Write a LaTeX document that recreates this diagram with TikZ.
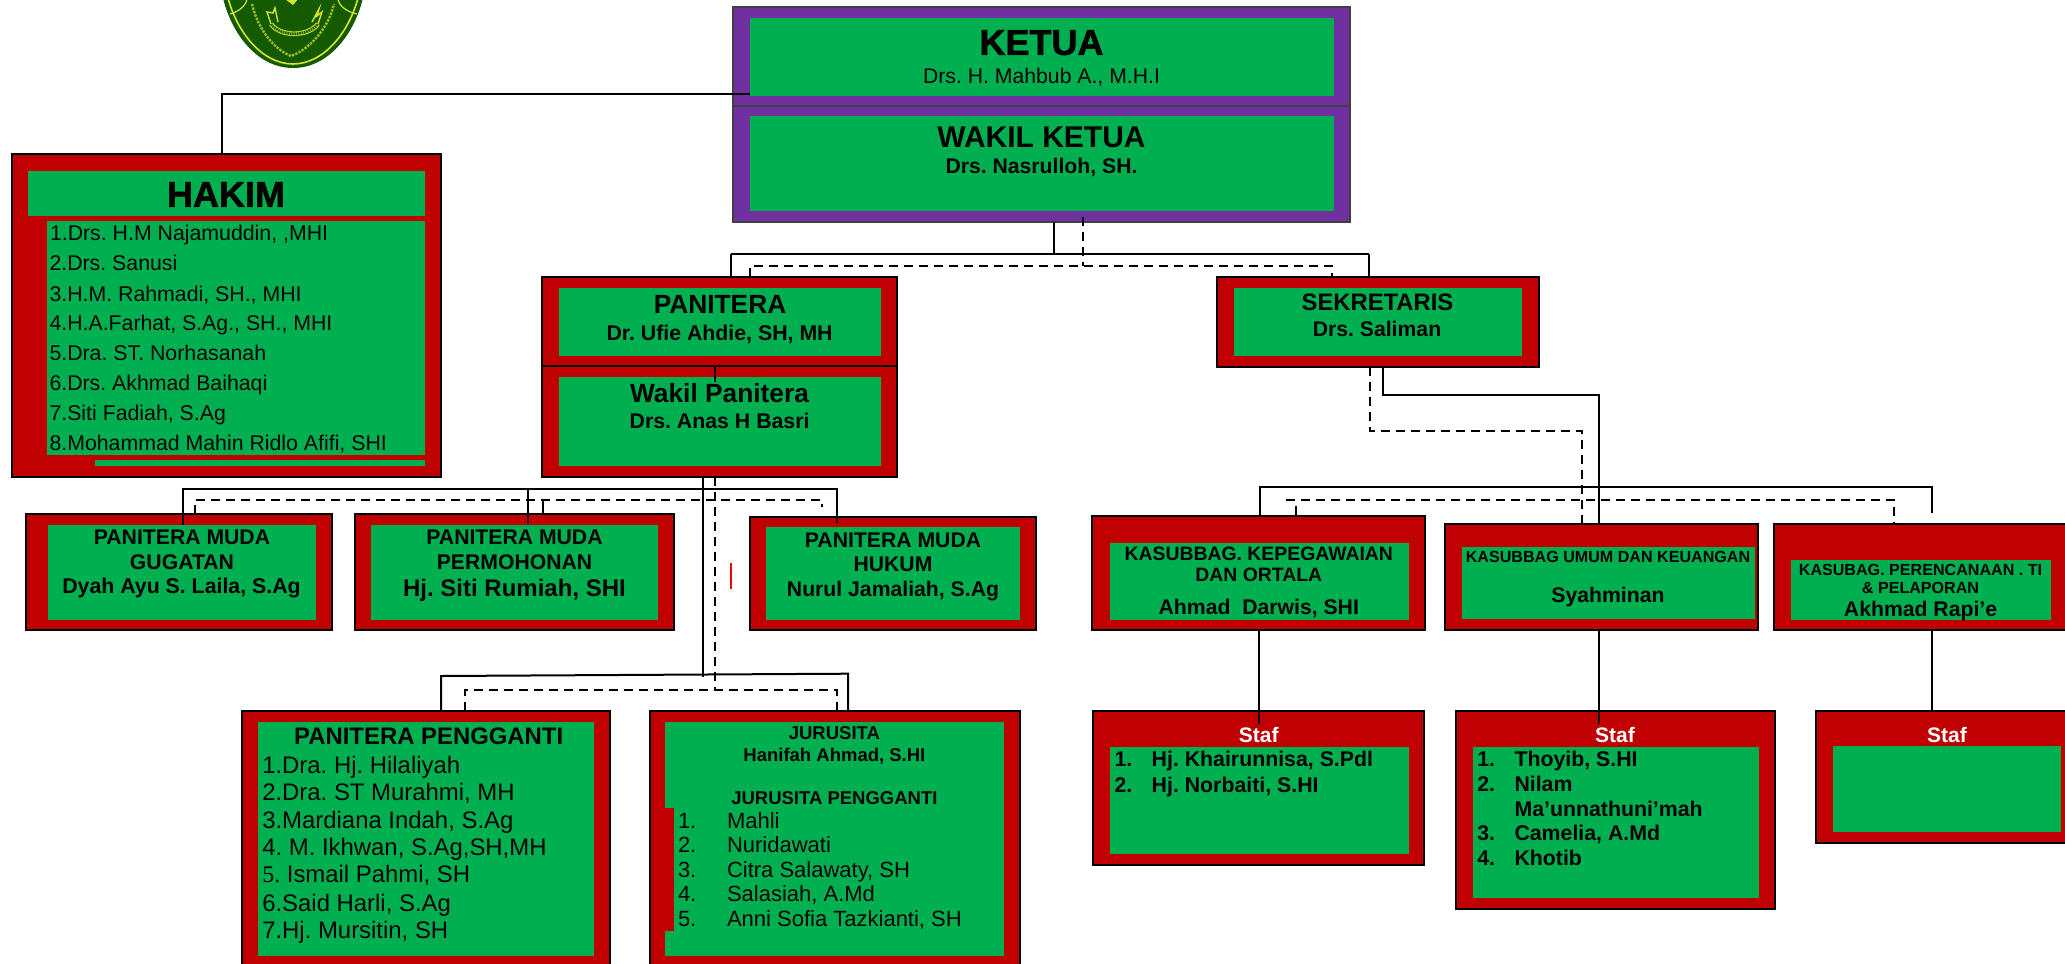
\documentclass[tikz,border=0pt]{standalone}
\usepackage{fontspec}
\setmainfont{Liberation Sans}
\newfontfamily\serfont{Liberation Serif}
\newfontfamily\heavy[FakeBold=1.6]{Liberation Sans Bold}
\frenchspacing
\definecolor{cred}{HTML}{C00000}
\definecolor{cgreen}{HTML}{00B050}
\definecolor{cpurple}{HTML}{7030A0}
\definecolor{sealgreen}{HTML}{145A00}
\definecolor{sealyellow}{HTML}{D6E62E}
\tikzset{
  redbox/.style={draw=black,line width=1pt,fill=cred,inner sep=0pt,outer sep=0pt},
  purplebox/.style={draw=black!75,line width=1pt,fill=cpurple,inner sep=0pt,outer sep=0pt},
  greenbox/.style={fill=cgreen,inner sep=0pt,outer sep=0pt},
  redpatch/.style={fill=cred,inner sep=0pt,outer sep=0pt},
  lab/.style={inner sep=0pt,outer sep=0pt,text depth=0pt,align=center},
  link/.style={draw=black,line width=1pt},
  dlink/.style={draw=black,line width=1pt,dash pattern=on 4.5pt off 3pt},
  tick/.style={draw=red,line width=0.8pt},
}
\newcommand\BX[6]{\node[#6,minimum width={(#4-#2)*0.5pt},minimum height={(#5-#3)*0.5pt}] (#1) at ({(#2+#4)/2},{(#3+#5)/2}) {};}
\newcommand\TX[7]{\pgfmathsetmacro\sz{#5*0.5}\node[lab,anchor=#2,text height={0.716*#5*0.5pt}] (#1) at (#3,#4) {\fontsize{\sz}{\sz}\selectfont#6\relax#7};}
\begin{document}
\begin{tikzpicture}[x=0.5pt,y=-0.5pt]
\useasboundingbox (0,0) rectangle (2065,963);
% seal
\fill[sealgreen] (223,-2) .. controls (232,35) and (258,68) .. (293,68) .. controls (328,68) and (354,35) .. (363,-2) -- cycle;
\begin{scope}[draw=sealyellow]
\draw[line width=0.8pt] (228,-2) .. controls (237,32) and (262,64) .. (293,64) .. controls (324,64) and (349,32) .. (358,-2);
\draw[line width=0.6pt] (247,-1) .. controls (246,6) and (238,12) .. (230,14);
\draw[line width=0.6pt] (338,-1) .. controls (339,6) and (347,12) .. (357,14);
\draw[line width=1.2pt,draw=sealyellow!70!sealgreen,dash pattern=on 1.2pt off 0.6pt] (252,4) .. controls (258,30) and (275,50) .. (291,56) .. controls (308,50) and (328,30) .. (334,4);
\draw[line width=2.4pt,draw=sealyellow!85!sealgreen] (271,24) .. controls (280,37) and (308,37) .. (318,24);
\draw[line width=1.2pt,draw=sealgreen,dash pattern=on 0.8pt off 0.4pt] (271,24) .. controls (280,37) and (308,37) .. (318,24);
\draw[line width=0.7pt] (271,24) -- (267,12) -- (273,13) -- (275,8) -- (278,22);
\draw[line width=0.7pt] (318,24) -- (322,12) -- (317,16) -- (319,9) -- (312,22);
\end{scope}
\fill[sealyellow] (285,-1) -- (293,5) -- (298,-1) -- cycle;
% boxes
\BX{ketua}{733}{7}{1350}{106}{purplebox}
\BX{ketuag}{750}{18}{1334}{96}{greenbox}
\BX{wakil}{733}{106}{1350}{222}{purplebox}
\BX{wakilg}{750}{116}{1334}{211}{greenbox}
\BX{hakim}{12}{154}{441}{477}{redbox}
\BX{hakimt}{28}{171}{425}{216}{greenbox}
\BX{hakiml}{47}{221}{425}{455}{greenbox}
\BX{hakims}{95}{460}{425}{466}{greenbox}
\BX{pan}{542}{277}{897}{366}{redbox}
\BX{pang}{559}{288}{881}{356}{greenbox}
\BX{wpan}{542}{366}{897}{477}{redbox}
\BX{wpang}{559}{377}{881}{466}{greenbox}
\BX{sek}{1217}{277}{1539}{367}{redbox}
\BX{sekg}{1234}{288}{1522}{356}{greenbox}
\BX{pmg}{26}{514}{332}{630}{redbox}
\BX{pmgg}{48}{525}{316}{620}{greenbox}
\BX{pmp}{355}{514}{674}{630}{redbox}
\BX{pmpg}{371}{525}{658}{620}{greenbox}
\BX{pmh}{750}{517}{1036}{630}{redbox}
\BX{pmhg}{766}{527}{1020}{620}{greenbox}
\BX{pp}{242}{711}{610}{990}{redbox}
\BX{ppg}{258}{722}{594}{956}{greenbox}
\BX{jur}{650}{711}{1020}{990}{redbox}
\BX{jurg}{665}{722}{1004}{956}{greenbox}
\BX{jurn}{665}{808}{674}{931}{redpatch}
\BX{kp}{1092}{516}{1425}{630}{redbox}
\BX{kpg}{1110}{543}{1409}{620}{greenbox}
\BX{ku}{1445}{524}{1758}{630}{redbox}
\BX{kug}{1462}{547}{1755}{619}{greenbox}
\BX{kr}{1774}{524}{2085}{630}{redbox}
\BX{krg}{1791}{560}{2051}{620}{greenbox}
\BX{sa}{1093}{711}{1424}{865}{redbox}
\BX{sag}{1110}{747}{1409}{854}{greenbox}
\BX{sb}{1456}{711}{1775}{909}{redbox}
\BX{sbg}{1473}{747}{1759}{898}{greenbox}
\BX{sc}{1816}{711}{2085}{843}{redbox}
\BX{scg}{1833}{746}{2061}{832}{greenbox}
% junction coordinates
\coordinate (jh) at (222,94);
\coordinate (jtop) at (1054,254);
\coordinate (jtopd) at (1083,266);
\coordinate (jsek) at (1382.5,395);
\coordinate (jsekd) at (1369.5,431);
\coordinate (jld) at (714.7,690);
\coordinate (jll) at (441,676);
\coordinate (jlr) at (848,673.7);
% connectors
\draw[link] (750,94) -- (jh) -- (jh |- hakim.north);
\draw[link] (jtop |- wakil.south) -- (jtop) (731,254) -- (1369,254) (731,254) -- (731,277) (1369,254) -- (1369,277);
\draw[dlink] (1083,217) -- (jtopd);
\draw[dlink] (750,277) -- (750,266) -- (1332,266) -- (1332,277);
\draw[link] (715,366) -- (715,382);
\draw[link] (1382.5,367) -- (jsek) -- (1598.5,395) -- (1598.5,524);
\draw[dlink] (1369.5,367) -- (jsekd) -- (1582,431) -- (1582,523);
\draw[link] (1259.5,516) -- (1259.5,487) -- (1932,487) -- (1932,513);
\draw[dlink] (1296,515) -- (1296,500);
\draw[dlink] (1286,500) -- (1894,500) -- (1894,523);
\draw[link] (183,525) -- (183,489) -- (837,489) -- (837,523) (527.5,489) -- (527.5,523);
\draw[dlink] (195,514) -- (195,500) -- (822,500) -- (822,507);
\draw[link] (543,500) -- (543,514);
\draw[link] (702.5,477) -- (702.5,677);
\draw[dlink] (714.7,477) -- (jld);
\draw[link] (441,711) -- (jll) -- (jlr) -- (848,711);
\draw[dlink] (464.5,711) -- (464.5,690) -- (837,690) -- (837,711);
\draw[link] (1259,630) -- (1259,724) (1598.5,630) -- (1598.5,724) (1932,630) -- (1932,711);
\draw[tick] (731,563) -- (731,589);
% texts
\TX{tketua}{center}{1041.5}{42}{36}{\heavy}{KETUA}
\TX{tketuan}{center}{1041.5}{76}{21.2}{}{Drs. H. Mahbub A., M.H.I}
\TX{twakil}{center}{1041.5}{137}{30}{\bfseries}{WAKIL KETUA}
\TX{twakiln}{center}{1041.5}{165.5}{21.2}{\bfseries}{Drs. Nasrulloh, SH.}
\TX{thakim}{center}{226}{194}{36}{\heavy}{HAKIM}
\TX{h1}{west}{50}{233}{21.3}{}{1.Drs. H.M Najamuddin, ,MHI}
\TX{h2}{west}{49.5}{263}{21.3}{}{2.Drs. Sanusi}
\TX{h3}{west}{49.5}{293.5}{21.3}{}{3.H.M. Rahmadi, SH., MHI}
\TX{h4}{west}{49.5}{323}{21.3}{}{4.H.A.Farhat, S.Ag., SH., MHI}
\TX{h5}{west}{49.5}{353}{21.3}{}{5.Dra. ST. Norhasanah}
\TX{h6}{west}{49.5}{383}{21.3}{}{6.Drs. Akhmad Baihaqi}
\TX{h7}{west}{49.5}{412.5}{21.3}{}{7.Siti Fadiah, S.Ag}
\TX{h8}{west}{49.5}{442.5}{21.3}{}{8.Mohammad Mahin Ridlo Afifi, SHI}
\TX{tpan}{center}{720}{304}{26.3}{\bfseries}{PANITERA}
\TX{tpann}{center}{719.6}{332.5}{21.3}{\bfseries}{Dr. Ufie Ahdie, SH, MH}
\TX{twpan}{center}{719.5}{393}{26.3}{\bfseries}{Wakil Panitera}
\TX{twpann}{center}{719.6}{420.5}{21.3}{\bfseries}{Drs. Anas H Basri}
\TX{tsek}{center}{1377.5}{301.5}{23.8}{\bfseries}{SEKRETARIS}
\TX{tsekn}{center}{1377}{328.5}{21.2}{\bfseries}{Drs. Saliman}
\TX{kp1}{center}{1258.8}{553.5}{19.4}{\bfseries}{KASUBBAG. KEPEGAWAIAN}
\TX{kp2}{center}{1258.8}{574.5}{19.4}{\bfseries}{DAN ORTALA}
\TX{kp3}{center}{1258.8}{606.5}{21.2}{\bfseries}{Ahmad\ \ Darwis, SHI}
\TX{ku1}{center}{1608}{556.5}{16.1}{\bfseries}{KASUBBAG UMUM DAN KEUANGAN}
\TX{ku2}{center}{1608}{595}{21.2}{\bfseries}{Syahminan}
\TX{kr1}{center}{1920.5}{569.5}{16.1}{\bfseries}{KASUBAG. PERENCANAAN . TI}
\TX{kr2}{center}{1920.5}{587.5}{16.1}{\bfseries}{\& PELAPORAN}
\TX{kr3}{center}{1920.5}{609}{21.2}{\bfseries}{Akhmad Rapi’e}
\TX{pmg1}{center}{182}{536.5}{21.2}{\bfseries}{PANITERA MUDA}
\TX{pmg2}{center}{182}{561.5}{21.2}{\bfseries}{GUGATAN}
\TX{pmg3}{center}{181.5}{586}{21.3}{\bfseries}{Dyah Ayu S. Laila, S.Ag}
\TX{pmp1}{center}{514.5}{536.5}{21.2}{\bfseries}{PANITERA MUDA}
\TX{pmp2}{center}{514.5}{561.5}{21.2}{\bfseries}{PERMOHONAN}
\TX{pmp3}{center}{514.5}{588}{24}{\bfseries}{Hj. Siti Rumiah, SHI}
\TX{pmh1}{center}{893}{539.5}{21.2}{\bfseries}{PANITERA MUDA}
\TX{pmh2}{center}{893}{563.5}{21.2}{\bfseries}{HUKUM}
\TX{pmh3}{center}{893}{589}{21.2}{\bfseries}{Nurul Jamaliah, S.Ag}
\TX{tpp}{center}{428.7}{735.5}{23.9}{\bfseries}{PANITERA PENGGANTI}
\TX{p1}{west}{262.3}{764.5}{23.9}{}{1.Dra. Hj. Hilaliyah}
\TX{p2}{west}{262.3}{791.5}{23.9}{}{2.Dra. ST Murahmi, MH}
\TX{p3}{west}{262.3}{820}{23.9}{}{3.Mardiana Indah, S.Ag}
\TX{p4}{west}{262.3}{846.5}{23.9}{}{4. M. Ikhwan, S.Ag,SH,MH}
\TX{p5}{west}{262.3}{874}{23.9}{}{{\serfont 5.} Ismail Pahmi, SH}
\TX{p6}{west}{262.3}{902.5}{23.9}{}{6.Said Harli, S.Ag}
\TX{p7}{west}{262.3}{930}{23.9}{}{7.Hj. Mursitin, SH}
\TX{tj1}{center}{834.4}{732.5}{18.5}{\bfseries}{JURUSITA}
\TX{tj2}{center}{834.4}{755}{18.5}{\bfseries}{Hanifah Ahmad, S.HI}
\TX{tj3}{center}{834.4}{797.5}{18.5}{\bfseries}{JURUSITA PENGGANTI}
\TX{jn1}{west}{678}{820.5}{22}{}{1.}
\TX{jn2}{west}{678}{845}{22}{}{2.}
\TX{jn3}{west}{678}{869.5}{22}{}{3.}
\TX{jn4}{west}{678}{894}{22}{}{4.}
\TX{jn5}{west}{678}{918.5}{22}{}{5.}
\TX{j1}{west}{727}{820.5}{22}{}{Mahli}
\TX{j2}{west}{727}{845}{22}{}{Nuridawati}
\TX{j3}{west}{727}{869.5}{22}{}{Citra Salawaty, SH}
\TX{j4}{west}{727}{894}{22}{}{Salasiah, A.Md}
\TX{j5}{west}{727}{918.5}{22}{}{Anni Sofia Tazkianti, SH}
\TX{sat}{center}{1258.7}{734.5}{21}{\bfseries\color{white}}{Staf}
\TX{san1}{west}{1114.5}{758.5}{21.3}{\bfseries}{1.}
\TX{san2}{west}{1114.5}{784.5}{21.3}{\bfseries}{2.}
\TX{sa1}{west}{1151.7}{758.5}{21.3}{\bfseries}{Hj. Khairunnisa, S.Pdl}
\TX{sa2}{west}{1151.7}{784.5}{21.3}{\bfseries}{Hj. Norbaiti, S.HI}
\TX{sbt}{center}{1615}{734.5}{21}{\bfseries\color{white}}{Staf}
\TX{sbn1}{west}{1477.3}{758.5}{21.3}{\bfseries}{1.}
\TX{sbn2}{west}{1477.3}{783.5}{21.3}{\bfseries}{2.}
\TX{sbn3}{west}{1477.3}{832.5}{21.3}{\bfseries}{3.}
\TX{sbn4}{west}{1477.3}{857.5}{21.3}{\bfseries}{4.}
\TX{sb1}{west}{1514.5}{758.5}{21.3}{\bfseries}{Thoyib, S.HI}
\TX{sb2}{west}{1514.5}{783.5}{21.3}{\bfseries}{Nilam}
\TX{sb2b}{west}{1514.5}{808.5}{21.3}{\bfseries}{Ma’unnathuni’mah}
\TX{sb3}{west}{1514.5}{832.5}{21.3}{\bfseries}{Camelia, A.Md}
\TX{sb4}{west}{1514.5}{857.5}{21.3}{\bfseries}{Khotib}
\TX{sct}{center}{1947}{734.5}{21}{\bfseries\color{white}}{Staf}
\end{tikzpicture}
\end{document}
